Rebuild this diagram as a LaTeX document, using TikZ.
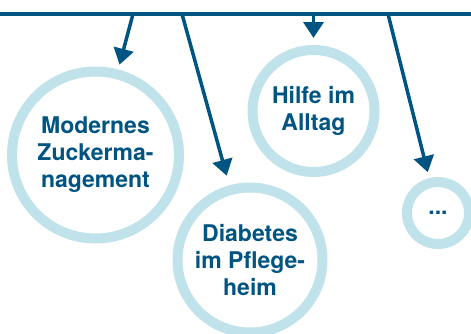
\documentclass[tikz,border=0pt]{standalone}
\usepackage{fontspec}
\setmainfont{TeX Gyre Heros}
\usetikzlibrary{arrows.meta}
\definecolor{darkblue}{HTML}{005482}
\definecolor{ringblue}{HTML}{C0E2EB}
\begin{document}
\begin{tikzpicture}[x=1pt,y=-1pt,
  ring/.style={circle,draw=ringblue,line width=10pt,inner sep=0pt,align=center,
    text=darkblue,font=\fontsize{23}{27}\selectfont\bfseries},
  bus/.style={draw=darkblue,line width=3.8pt},
  conn/.style={draw=darkblue,line width=3.5pt,-{Triangle[width=20pt,length=16pt]}}]
\useasboundingbox (0,0) rectangle (471,333);
\coordinate (L) at (0,14);
\coordinate (R) at (471,14);
\coordinate (b1) at (133,14);
\coordinate (b2) at (182,14);
\coordinate (b3) at (313.5,14);
\coordinate (b4) at (388,14);
\node[ring,minimum size=167pt] (c1) at (95.5,155) {Modernes\\Zuckerma-\\nagement};
\node[ring,minimum size=122pt] (c2) at (313.5,111) {Hilfe im\\Alltag};
\node[ring,minimum size=145pt] (c3) at (250,260) {Diabetes\\im Pflege-\\heim};
\node[ring,minimum size=62pt] (c4) at (438,213) {...};
\draw[bus] (L) -- (R);
\draw[conn,shorten >=5pt] (b1) -- (c1);
\draw[conn,shorten >=10pt] (b2) -- (c3);
\draw[conn,shorten >=7pt] (b3) -- (c2);
\draw[conn,shorten >=6pt] (b4) -- (c4);
\end{tikzpicture}
\end{document}
